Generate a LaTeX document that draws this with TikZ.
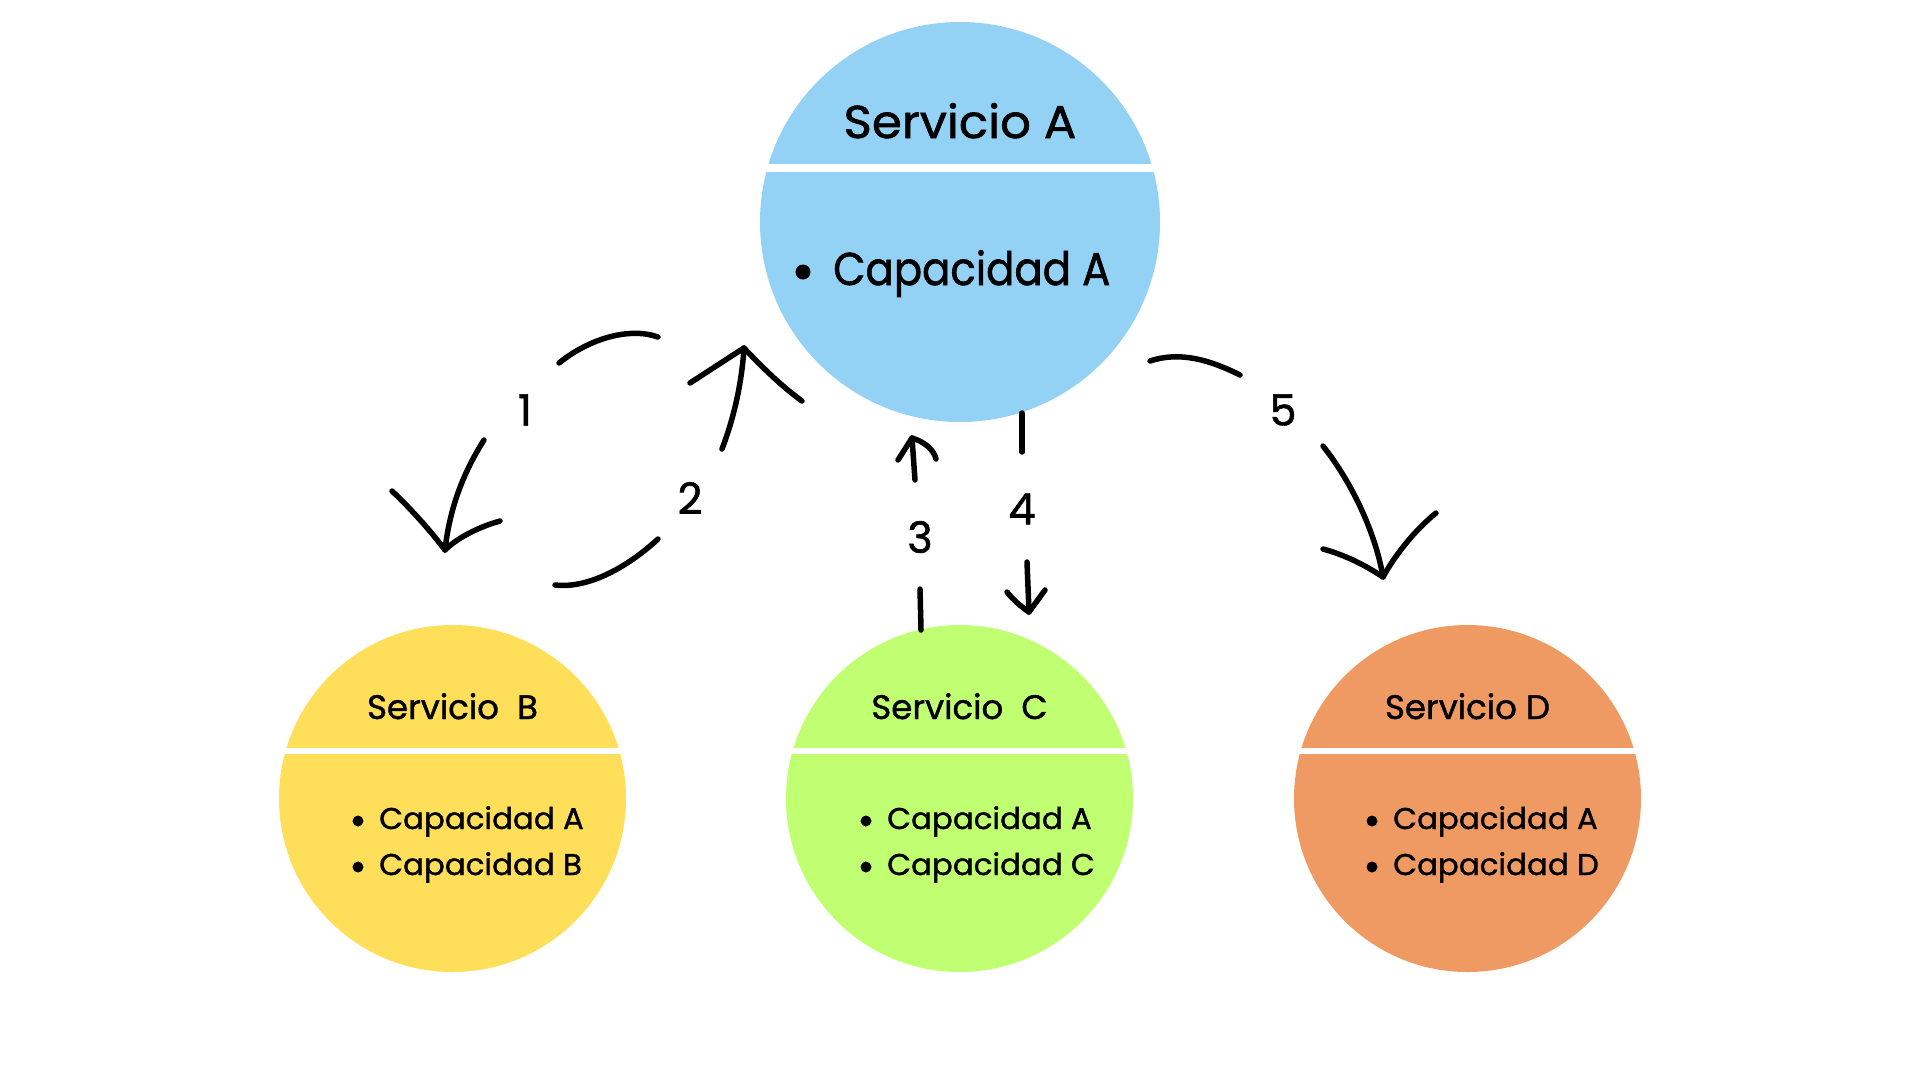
\documentclass[tikz,border=0pt]{standalone}
\usepackage{fontspec}
\setmainfont{Poppins}
\newfontfamily\fAh{Poppins}[FakeBold=1.3, FakeStretch=1.05]
\newfontfamily\fAi{Poppins}[FakeBold=1.3, FakeStretch=0.91]
\newfontfamily\fBh{Poppins}[FakeBold=1.2]
\newfontfamily\fBi{Poppins}[FakeBold=1.2, FakeStretch=1.03]
\newfontfamily\fnum{Poppins}[FakeBold=1.3]
\definecolor{cA}{HTML}{93D1F5}
\definecolor{cB}{HTML}{FFDE5A}
\definecolor{cC}{HTML}{C1FF72}
\definecolor{cD}{HTML}{F09A63}
\tikzset{
  svc/.style={circle, draw=none, inner sep=0pt, outer sep=0pt},
  hdrbig/.style={anchor=base, inner sep=0pt, font=\fAh\fontsize{46}{46}\selectfont},
  hdr/.style={anchor=base, inner sep=0pt, font=\fBh\fontsize{34}{34}\selectfont},
  itembig/.style={anchor=base west, inner sep=0pt, font=\fAi\fontsize{46}{46}\selectfont},
  item/.style={anchor=base west, inner sep=0pt, font=\fBi\fontsize{30}{30}\selectfont},
  num/.style={inner sep=0pt, font=\fnum\fontsize{43}{43}\selectfont},
  stroke/.style={draw=black, line width=5.5pt, line cap=round, line join=round},
}
\begin{document}
\begin{tikzpicture}[x=1pt,y=-1pt]
\useasboundingbox[fill=white] (0,0) rectangle (1920,1080);

% circles
\node[svc, fill=cA, minimum size=400pt] (A) at (960,222) {};
\node[svc, fill=cB, minimum size=347pt] (B) at (452.5,798.5) {};
\node[svc, fill=cC, minimum size=347pt] (C) at (959.5,798.5) {};
\node[svc, fill=cD, minimum size=347pt] (D) at (1467.5,798.5) {};

% white separating stripes
\fill[white] (740,164) rectangle (1180,172);
\fill[white] (260,748) rectangle (650,754);
\fill[white] (770,748) rectangle (1150,754);
\fill[white] (1280,748) rectangle (1660,754);

% texts A
\node[hdrbig] (Ah) at (960,138) {Servicio A};
\fill (803,272) circle (7.5);
\node[itembig] (A1) at (833,285) {Capacidad A};

% texts B
\node[hdr] (Bh) at (452.5,719) {Servicio\ \ B};
\fill (358,821) circle (5.5);
\fill (358,867) circle (5.5);
\node[item] (B1) at (379,829) {Capacidad A};
\node[item] (B2) at (379,875) {Capacidad B};

% texts C
\node[hdr] (Ch) at (959.5,719) {Servicio\ \ C};
\fill (866,821) circle (5.5);
\fill (866,867) circle (5.5);
\node[item] (C1) at (887,829) {Capacidad A};
\node[item] (C2) at (887,875) {Capacidad C};

% texts D
\node[hdr] (Dh) at (1467.5,719) {Servicio D};
\fill (1372,821) circle (5.5);
\fill (1372,867) circle (5.5);
\node[item] (D1) at (1393,829) {Capacidad A};
\node[item] (D2) at (1393,875) {Capacidad D};

% labels
\node[num] (n1) at (525,410) {1};
\node[num] (n2) at (690,498) {2};
\node[num] (n3) at (920,537) {3};
\node[num] (n4) at (1022,509) {4};
\node[num] (n5) at (1283,410) {5};

% arrow 1 : A -> B
\coordinate (a1s) at (658,337);
\coordinate (a1m) at (559,363);
\coordinate (a1n) at (484,440);
\coordinate (a1t) at (445,550);
\coordinate (a1l) at (392,491);
\coordinate (a1r) at (500,521);
\draw[stroke] (a1s) .. controls (630,327) and (590,338) .. (a1m);
\draw[stroke] (a1n) .. controls (465,470) and (450,505) .. (a1t);
\draw[stroke] (a1l) .. controls (410,508) and (430,530) .. (a1t) .. controls (455,540) and (475,528) .. (a1r);

% arrow 2 : B -> A
\coordinate (a2s) at (555,585);
\coordinate (a2m) at (658,539);
\coordinate (a2n) at (722,449);
\coordinate (a2t) at (744,348);
\coordinate (a2l) at (690,383);
\coordinate (a2r) at (802,401);
\draw[stroke] (a2s) .. controls (590,589) and (630,565) .. (a2m);
\draw[stroke] (a2n) .. controls (735,415) and (742,380) .. (a2t);
\draw[stroke] (a2l) .. controls (710,370) and (730,357) .. (a2t) .. controls (760,365) and (780,385) .. (a2r);

% arrow 3 : C -> A
\coordinate (a3s) at (921,630);
\coordinate (a3m) at (920,589);
\coordinate (a3n) at (915,480);
\coordinate (a3t) at (912,438);
\coordinate (a3l) at (898,460);
\coordinate (a3r) at (936,459);
\draw[stroke] (a3s) -- (a3m);
\draw[stroke] (a3n) -- (a3t);
\draw[stroke] (a3l) -- (a3t) .. controls (925,442) and (934,450) .. (a3r);

% arrow 4 : A -> C
\coordinate (a4s) at (1022,413);
\coordinate (a4m) at (1022,452);
\coordinate (a4n) at (1027,562);
\coordinate (a4t) at (1029,612);
\coordinate (a4l) at (1007,592);
\coordinate (a4r) at (1045,590);
\draw[stroke] (a4s) -- (a4m);
\draw[stroke] (a4n) -- (a4t);
\draw[stroke] (a4l) .. controls (1015,602) and (1022,607) .. (a4t) -- (a4r);

% arrow 5 : A -> D
\coordinate (a5s) at (1150,361);
\coordinate (a5m) at (1240,375);
\coordinate (a5n) at (1323,446);
\coordinate (a5t) at (1383,577);
\coordinate (a5l) at (1323,549);
\coordinate (a5r) at (1436,513);
\draw[stroke] (a5s) .. controls (1180,351) and (1210,360) .. (a5m);
\draw[stroke] (a5n) .. controls (1350,480) and (1375,530) .. (a5t);
\draw[stroke] (a5l) .. controls (1345,555) and (1365,565) .. (a5t) .. controls (1395,555) and (1415,530) .. (a5r);
\end{tikzpicture}
\end{document}
